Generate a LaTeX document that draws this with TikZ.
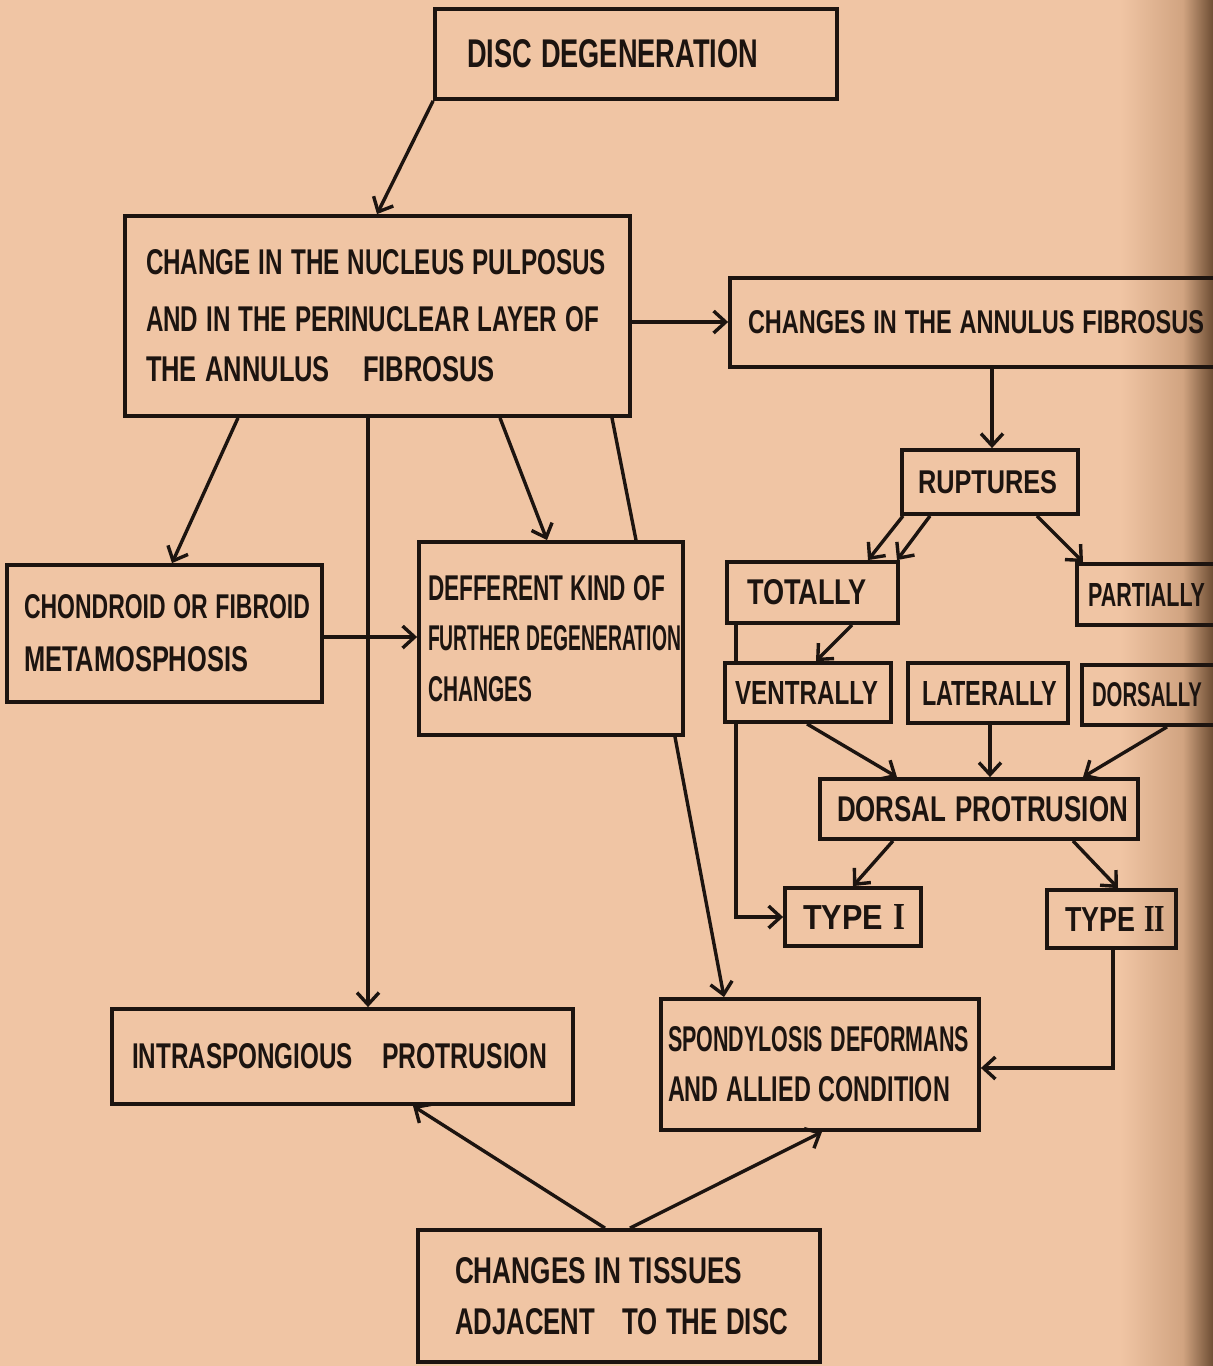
\documentclass[tikz,border=0pt]{standalone}
\usepackage{fontspec}
\usepackage{graphicx}
\usetikzlibrary{arrows.meta}
\newfontfamily\labfont{Liberation Sans}
\newfontfamily\numfont{Liberation Serif}
\definecolor{paper}{RGB}{240,197,164}
\definecolor{ink}{RGB}{28,20,16}
\definecolor{edgeA}{RGB}{208,163,128}
\definecolor{edgeB}{RGB}{110,78,52}
\setlength\parindent{0pt}
\newcommand\tx[3]{\resizebox{#1pt}{#2pt}{\labfont\bfseries #3}}
\newcommand\tline[1]{\leavevmode\rlap{#1}}
\newcommand\rnum[1]{\scalebox{1}[1.1]{\numfont\bfseries #1}}
\tikzset{
  box/.style={draw=ink, line width=3.8pt, inner sep=0pt, align=left, text=ink,
    font=\fontsize{10pt}{51pt}\selectfont},
  arr/.style={draw=ink, line width=3.4pt, -{Straight Barb[length=12pt,width=22pt]}},
  plainline/.style={draw=ink, line width=3.4pt},
}
\begin{document}
\begin{tikzpicture}[x=1pt,y=-1pt]
\useasboundingbox (0,0) rectangle (1213,1366);
\clip (0,0) rectangle (1213,1366);
\fill[paper] (0,0) rectangle (1213,1366);
\shade[left color=paper,right color=edgeA] (1120,0) rectangle (1184,1366);
\shade[left color=edgeA,right color=edgeB] (1183,0) rectangle (1213,1366);

% boxes
\node[box, minimum width=402pt, minimum height=90pt, text width=338pt] (disc) at (636,54)
  {\tline{\tx{291}{28}{DISC DEGENERATION}}};
\node[box, minimum width=505pt, minimum height=200pt, text width=463pt,
      font=\fontsize{10pt}{50pt}\selectfont] (nucleus) at (377.5,316)
  {\tline{\tx{460}{25}{CHANGE IN THE NUCLEUS PULPOSUS}}\\[7pt]
   \tline{\tx{453}{25}{AND IN THE PERINUCLEAR LAYER OF}}\\
   \tline{\tx{184}{25}{THE ANNULUS}\hspace{33pt}\tx{132}{25}{FIBROSUS}}};
\node[box, minimum width=590pt, minimum height=89pt, text width=554pt] (annulus) at (1025,322.5)
  {\tline{\tx{456}{23}{CHANGES IN THE ANNULUS FIBROSUS}}};
\node[box, minimum width=176pt, minimum height=64pt, text width=144pt] (ruptures) at (990,482)
  {\tline{\tx{139}{23}{RUPTURES}}};
\node[box, minimum width=171pt, minimum height=61pt, text width=131pt] (totally) at (812.5,592.5)
  {\tline{\tx{120}{25}{TOTALLY}}};
\node[box, minimum width=243pt, minimum height=61pt, text width=221pt] (partially) at (1198.5,594.5)
  {\tline{\tx{117}{23}{PARTIALLY}}};
\node[box, minimum width=238pt, minimum height=60pt, text width=218pt] (dorsally) at (1201,695)
  {\tline{\tx{110}{24}{DORSALLY}}};
\node[box, minimum width=166pt, minimum height=59pt, text width=146pt] (ventrally) at (808,692.5)
  {\tline{\tx{143}{23}{VENTRALLY}}};
\node[box, minimum width=160pt, minimum height=60pt, text width=132pt] (laterally) at (988,693)
  {\tline{\tx{135}{24}{LATERALLY}}};
\node[box, minimum width=318pt, minimum height=60pt, text width=284pt] (dorsalprot) at (979,809)
  {\tline{\tx{291}{25}{DORSAL PROTRUSION}}};
\node[box, minimum width=136pt, minimum height=58pt, text width=100pt] (type1) at (853,917)
  {\tline{\tx{102}{25}{TYPE \rnum{I}}}};
\node[box, minimum width=129pt, minimum height=58pt, text width=93pt] (type2) at (1111.5,919)
  {\tline{\tx{100}{25}{TYPE \rnum{II}}}};
\node[box, minimum width=315pt, minimum height=137pt, text width=281pt,
      font=\fontsize{10pt}{53pt}\selectfont] (chondroid) at (164.5,633.5)
  {\tline{\tx{286}{24}{CHONDROID OR FIBROID}}\\
   \tline{\tx{224}{25}{METAMOSPHOSIS}}};
\node[box, minimum width=264pt, minimum height=193pt, text width=246pt,
      font=\fontsize{10pt}{50.5pt}\selectfont] (deff) at (551,638.5)
  {\tline{\tx{237}{25}{DEFFERENT KIND OF}}\\
   \tline{\tx{253}{25}{FURTHER DEGENERATION}}\\
   \tline{\tx{104}{25}{CHANGES}}};
\node[box, minimum width=461pt, minimum height=95pt, text width=421pt] (intra) at (342.5,1056.5)
  {\tline{\tx{221}{25}{INTRASPONGIOUS}\hspace{29pt}\tx{165}{25}{PROTRUSION}}};
\node[box, minimum width=318pt, minimum height=131pt, text width=304pt,
      font=\fontsize{10pt}{50pt}\selectfont] (spondy) at (820,1064.5)
  {\tline{\tx{301}{25}{SPONDYLOSIS DEFORMANS}}\\
   \tline{\tx{282}{25}{AND ALLIED CONDITION}}};
\node[box, minimum width=402pt, minimum height=132pt, text width=328pt] (tissues) at (619,1296)
  {\tline{\tx{287}{26}{CHANGES IN TISSUES}}\\
   \tline{\tx{140}{26}{ADJACENT}\hspace{27pt}\tx{166}{26}{TO THE DISC}}};

% connectors
\draw[arr] (disc.south west) -- (nucleus.north -| 377,0);
\draw[arr] (nucleus.east |- 0,322) -- (annulus.west |- 0,322);
\draw[arr] (annulus.south -| 992,0) -- (ruptures.north -| 992,0);
\draw[arr] (ruptures.south -| 903,0) -- (totally.north -| 868,0);
\draw[arr] (ruptures.south -| 930,0) -- (totally.north -| 897,0);
\draw[arr] (ruptures.south -| 1037,0) -- (partially.north -| 1083,0);
\draw[arr] (totally.south -| 852,0) -- (ventrally.north -| 816,0);
\draw[plainline] (totally.south -| 736,0) -- (ventrally.north -| 736,0);
\draw[arr] (ventrally.south -| 736,0) |- (type1.west);
\draw[arr] (ventrally.south -| 807,0) -- (dorsalprot.north -| 897,0);
\draw[arr] (laterally.south -| 990,0) -- (dorsalprot.north -| 990,0);
\draw[arr] (dorsally.south -| 1167,0) -- (dorsalprot.north -| 1083,0);
\draw[arr] (dorsalprot.south -| 893,0) -- (type1.north -| 853,0);
\draw[arr] (dorsalprot.south -| 1073,0) -- (type2.north -| 1118,0);
\draw[arr] (type2.south -| 1113,0) |- (spondy.east |- 0,1068);
\draw[arr] (nucleus.south -| 238,0) -- (chondroid.north -| 172,0);
\draw[arr] (nucleus.south -| 368,0) -- (intra.north -| 368,0);
\draw[arr] (nucleus.south -| 500,0) -- (deff.north -| 547,0);
\draw[plainline] (nucleus.south -| 612,0) -- (deff.north -| 636,0);
\draw[arr] (chondroid.east |- 0,637) -- (deff.west |- 0,637);
\draw[arr] (deff.south -| 675,0) -- (spondy.north -| 724,0);
\draw[arr] (tissues.north -| 605,0) -- (intra.south -| 413,0);
\draw[arr] (tissues.north -| 630,0) -- (spondy.south -| 822,0);
\end{tikzpicture}
\end{document}
